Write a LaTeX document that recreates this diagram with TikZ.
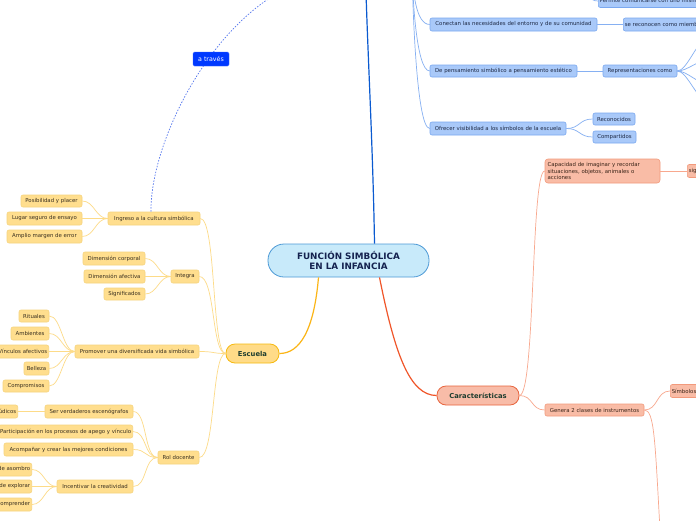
\documentclass[tikz,border=0pt]{standalone}
\usepackage{fontspec}
\setmainfont{DejaVu Sans}
\usetikzlibrary{calc}
\definecolor{cenf}{HTML}{C8EAFA}
\definecolor{cenb}{HTML}{4D9AD6}
\definecolor{cent}{HTML}{14224F}
\definecolor{escf}{HTML}{FFDB88}
\definecolor{escb}{HTML}{F6B90F}
\definecolor{cart}{HTML}{1E3D2F}
\definecolor{carf}{HTML}{F8BCA8}
\definecolor{carb}{HTML}{E8653E}
\definecolor{yf}{HTML}{FFDE8E}
\definecolor{yb}{HTML}{F6D47E}
\definecolor{yt}{HTML}{3A3020}
\definecolor{bf}{HTML}{A9C9F9}
\definecolor{bb}{HTML}{7AA8F0}
\definecolor{bt}{HTML}{1F2A45}
\definecolor{of}{HTML}{F9BCA6}
\definecolor{ob}{HTML}{F29A7C}
\definecolor{ot}{HTML}{3A2418}
\definecolor{ylin}{HTML}{FDDB88}
\definecolor{blin}{HTML}{86B0F2}
\definecolor{olin}{HTML}{F8A88E}
\definecolor{ymain}{HTML}{FBB516}
\definecolor{omain}{HTML}{F0562A}
\definecolor{bmain}{HTML}{0A5AD0}
\definecolor{atrf}{HTML}{0039FF}
\definecolor{dashc}{HTML}{5577EE}
\tikzset{
  base/.style={rounded corners=2pt, line width=0.6pt, font=\fontsize{5.4}{6.4}\selectfont, minimum height=13pt, inner xsep=1.5pt, inner ysep=1pt},
  ynode/.style={base, draw=yb, fill=yf, text=yt},
  bnode/.style={base, draw=bb, fill=bf, text=bt},
  onode/.style={base, draw=ob, fill=of, text=ot},
  yl/.style={draw=ylin, line width=0.7pt},
  bl/.style={draw=blin, line width=0.7pt},
  ol/.style={draw=olin, line width=0.7pt},
}
\begin{document}
\begin{tikzpicture}[x=1pt,y=-1pt]
\useasboundingbox (0,0) rectangle (696,520);
\fill[white] (0,0) rectangle (696,520);

% coordinates for free ends
\coordinate (mtop) at (366,-8);
\coordinate (btop) at (412,-40);
\coordinate (ptop) at (584,-25);
\coordinate (dtop) at (276,-6);
\coordinate (r1) at (708,38);
\coordinate (r2) at (708,60);
\coordinate (r3) at (708,84);
\coordinate (r4) at (708,102);
\coordinate (gdown) at (660,530);

% central and main nodes
\node[draw=cenb, fill=cenf, text=cent, line width=0.8pt, rounded corners=16pt, minimum width=161pt, minimum height=33pt, font=\bfseries\fontsize{8.8}{10.5}\selectfont, align=center] (cen) at (348.5,260.5) {FUNCIÓN SIMBÓLICA\\EN LA INFANCIA};
\node[draw=escb, fill=escf, text=cart, line width=0.8pt, rounded corners=9pt, minimum width=53pt, minimum height=19pt, font=\bfseries\fontsize{6.8}{8}\selectfont] (esc) at (252.5,353.5) {Escuela};
\node[draw=carb, fill=carf, text=cart, line width=0.8pt, rounded corners=9pt, minimum width=82pt, minimum height=19pt, font=\bfseries\fontsize{6.8}{8}\selectfont] (car) at (478,395.5) {Características};

% Escuela children
\node[ynode, minimum width=92pt] (ing) at (154,218.5) {Ingreso a la cultura simbólica};
\node[ynode, minimum width=61pt, minimum height=12pt] (pos) at (51.5,201) {Posibilidad y placer};
\node[ynode, minimum width=75pt] (lug) at (44.5,218.5) {Lugar seguro de ensayo};
\node[ynode, minimum width=75pt] (amp) at (44.5,236.5) {Amplio margen de error};
\node[ynode, minimum width=28pt] (int) at (185,276.5) {Integra};
\node[ynode, minimum width=62pt] (dco) at (114,258.5) {Dimensión corporal};
\node[ynode, minimum width=61pt] (daf) at (114.5,276.5) {Dimensión afectiva};
\node[ynode, minimum width=41pt, minimum height=12pt] (sig) at (124.5,294) {Significados};
\node[ynode, minimum width=124pt] (pro) at (137,351.5) {Promover una diversificada vida simbólica};
\node[ynode, minimum width=30pt, minimum height=12pt] (rit) at (34,316) {Rituales};
\node[ynode, minimum width=38pt] (amb) at (30,333.5) {Ambientes};
\node[ynode, anchor=east] (vin) at (49,351.5) {Vínculos afectivos};
\node[ynode, minimum width=25pt] (bel) at (36.5,368.5) {Belleza};
\node[ynode, minimum width=46pt, minimum height=12pt] (com) at (26,386) {Compromisos};
\node[ynode, minimum width=41pt] (rol) at (178.5,457.5) {Rol docente};
\node[ynode, minimum width=88pt] (ser) at (89,411.5) {Ser verdaderos escenógrafos};
\node[ynode, anchor=east] (lud) at (18,411.5) {Espacios lúdicos};
\node[ynode, anchor=east] (par) at (133,431.5) {Participación en los procesos de apego y vínculo};
\node[ynode, minimum width=129pt] (aco) at (68.5,449.5) {Acompañar y crear las mejores condiciones};
\node[ynode, minimum width=76pt] (inc) at (95,486.5) {Incentivar la creatividad};
\node[ynode, anchor=east] (ca1) at (32,469.5) {Capacidad de asombro};
\node[ynode, anchor=east] (ca2) at (32,486.5) {Deseo de explorar};
\node[ynode, anchor=east] (ca3) at (32,504.5) {Deseo de comprender};

% blue branch nodes
\node[bnode, anchor=west] (perm) at (598,1) {Permite comunicarse con uno mismo y con los demás};
\node[bnode, minimum width=167pt] (con) at (513.5,24.5) {Conectan las necesidades del entorno y de su comunidad};
\node[bnode, anchor=west] (sec) at (623,24.5) {se reconocen como miembros de una comunidad};
\node[bnode, minimum width=147pt, minimum height=12pt] (dep) at (503.5,71) {De pensamiento simbólico a pensamiento estético};
\node[bnode, minimum width=74pt, minimum height=12pt] (rep) at (640,71) {Representaciones como};
\node[bnode, minimum width=136pt] (ofr) at (498,128.5) {Ofrecer visibilidad a los símbolos de la escuela};
\node[bnode, minimum width=42pt, minimum height=12pt] (rec) at (614,119) {Reconocidos};
\node[bnode, minimum width=43pt, minimum height=12pt] (cmp) at (614.5,137) {Compartidos};

% orange branch nodes
\node[onode, minimum width=115pt, minimum height=24pt, align=left, text width=110pt, rounded corners=3pt, font=\fontsize{5.4}{6.2}\selectfont] (cap) at (602.5,171) {Capacidad de imaginar y recordar\\situaciones, objetos, animales o\\acciones};
\node[onode, anchor=west] (si) at (687,171) {significantes};
\node[onode, minimum width=99pt, minimum height=12pt] (gen) at (594.5,410) {Genera 2 clases de instrumentos};
\node[onode, anchor=west] (sim) at (670,391) {Símbolos};

% main connectors
\draw[bmain, line width=1.2pt] ($(cen.north)+(26,0)$) .. controls (373,150) and (368,60) .. (mtop);
\draw[ymain, line width=1.2pt] ($(cen.south)+(-30,0)$) .. controls (314,330) and (300,353.5) .. (esc.east);
\draw[omain, line width=1.2pt] ($(cen.south)+(31,0)$) .. controls (395,355) and (410,395.5) .. (car.west);

% Escuela connectors
\foreach \n in {ing,int,pro,rol}{
  \draw[yl] (esc.west) .. controls +(-14,0) and +(16,0) .. (\n.east);
}
\foreach \n in {pos,lug,amp}{
  \draw[yl] (ing.west) .. controls +(-12,0) and +(12,0) .. (\n.east);
}
\foreach \n in {dco,daf,sig}{
  \draw[yl] (int.west) .. controls +(-12,0) and +(12,0) .. (\n.east);
}
\foreach \n in {rit,amb,vin,bel,com}{
  \draw[yl] (pro.west) .. controls +(-12,0) and +(12,0) .. (\n.east);
}
\foreach \n in {ser,par,aco,inc}{
  \draw[yl] (rol.west) .. controls +(-14,0) and +(14,0) .. (\n.east);
}
\draw[yl] (ser.west) -- (lud.east);
\foreach \n in {ca1,ca2,ca3}{
  \draw[yl] (inc.west) .. controls +(-12,0) and +(12,0) .. (\n.east);
}

% blue connectors
\foreach \n in {con,dep,ofr}{
  \draw[bl] (btop) .. controls +(0,30) and +(-14,0) .. (\n.west);
}
\draw[bl] (ptop) .. controls +(2,20) and +(-8,0) .. (perm.west);
\draw[bl] (con.east) -- (sec.west);
\draw[bl] (dep.east) -- (rep.west);
\foreach \n in {r1,r2,r3,r4}{
  \draw[bl] (rep.east) .. controls +(10,0) and +(-10,0) .. (\n);
}
\foreach \n in {rec,cmp}{
  \draw[bl] (ofr.east) .. controls +(14,0) and +(-14,0) .. (\n.west);
}

% orange connectors
\draw[ol] (car.east) .. controls +(16,0) and +(-14,0) .. (cap.west);
\draw[ol] (car.east) .. controls +(14,0) and +(-14,0) .. (gen.west);
\draw[ol] (cap.east) -- (si.west);
\draw[ol] (gen.east) .. controls +(14,0) and +(-14,0) .. (sim.west);
\draw[ol] (gen.east) .. controls +(10,0) and (655,440) .. (gdown);

% dashed relation
\draw[dashc, line width=0.7pt, dash pattern=on 1.5pt off 1.5pt] ($(ing.north)+(-3,0)$) .. controls (150,150) and (200,40) .. (dtop);
\node[draw=atrf!80!white, fill=atrf, text=white, rounded corners=1.5pt, minimum width=36pt, minimum height=14pt, font=\fontsize{6.3}{7}\selectfont, inner sep=1pt] (atr) at (211,59) {a través};

\end{tikzpicture}
\end{document}
